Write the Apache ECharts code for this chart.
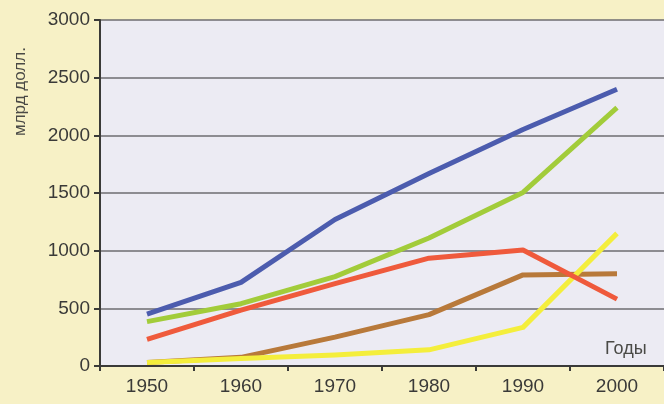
<!DOCTYPE html>
<html>
<head>
<meta charset="utf-8">
<script src="https://cdn.jsdelivr.net/npm/echarts@6/dist/echarts.min.js"></script>
<style>
html,body{margin:0;padding:0;background:#f7f1c6;}
#c{width:664px;height:404px;}
</style>
</head>
<body>
<div id="c"></div>
<script>
var years = ['1950','1960','1970','1980','1990','2000'];
var blueVals   = [450, 725, 1270, 1670, 2050, 2400];
var greenVals  = [385, 540, 775, 1110, 1505, 2240];
var redVals    = [230, 485, 715, 935, 1005, 580];
var brownVals  = [30, 75, 250, 445, 790, 800];
var yellowVals = [30, 65, 95, 140, 335, 1150];
var yTicks = [0, 500, 1000, 1500, 2000, 2500, 3000];

var chart = echarts.init(document.getElementById('c'), null, {renderer:'canvas'});
var font = '"Liberation Sans", Arial, sans-serif';
function line(name, data, color){
  return {name:name, type:'line', data:data, symbol:'none', smooth:false,
    lineStyle:{color:color, width:5, cap:'butt', join:'round'}, z:3};
}
chart.setOption({
  backgroundColor:'#f7f1c6',
  animation:false,
  grid:{left:100, top:20, width:569, height:346, show:true, backgroundColor:'#ecebf3', borderWidth:0},
  xAxis:{type:'category', data:years, boundaryGap:true,
    axisLine:{lineStyle:{color:'#3a3a38', width:2}},
    axisTick:{show:true, length:5, lineStyle:{color:'#3a3a38', width:2}},
    axisLabel:{color:'#3a3a38', fontSize:19, fontFamily:font, margin:11},
    splitLine:{show:false}},
  yAxis:{type:'value', min:yTicks[0], max:yTicks[yTicks.length-1], interval:500,
    axisLine:{show:true, lineStyle:{color:'#3a3a38', width:2}},
    axisTick:{show:true, length:6, lineStyle:{color:'#3a3a38', width:2}},
    axisLabel:{color:'#3a3a38', fontSize:19, fontFamily:font, margin:10,
      formatter:function(v){return String(v);}},
    splitLine:{show:true, lineStyle:{color:'#6e6d70', width:1.5}}},
  graphic:[
    {type:'text', x:12, y:136, rotation:Math.PI/2,
     style:{text:'млрд долл.', fill:'#4a4a46', fontSize:17, fontFamily:font, textVerticalAlign:'top', textAlign:'left'}},
    {type:'text', x:605, y:340, style:{text:'Годы', fill:'#4a4a46', fontSize:18, fontFamily:font}}
  ],
  series:[
    line('brown', brownVals, '#b8793a'),
    line('yellow', yellowVals, '#f4ee3c'),
    line('red', redVals, '#ef5a3c'),
    line('green', greenVals, '#a2cc3a'),
    line('blue', blueVals, '#4c5cae')
  ]
});
</script>
</body>
</html>
